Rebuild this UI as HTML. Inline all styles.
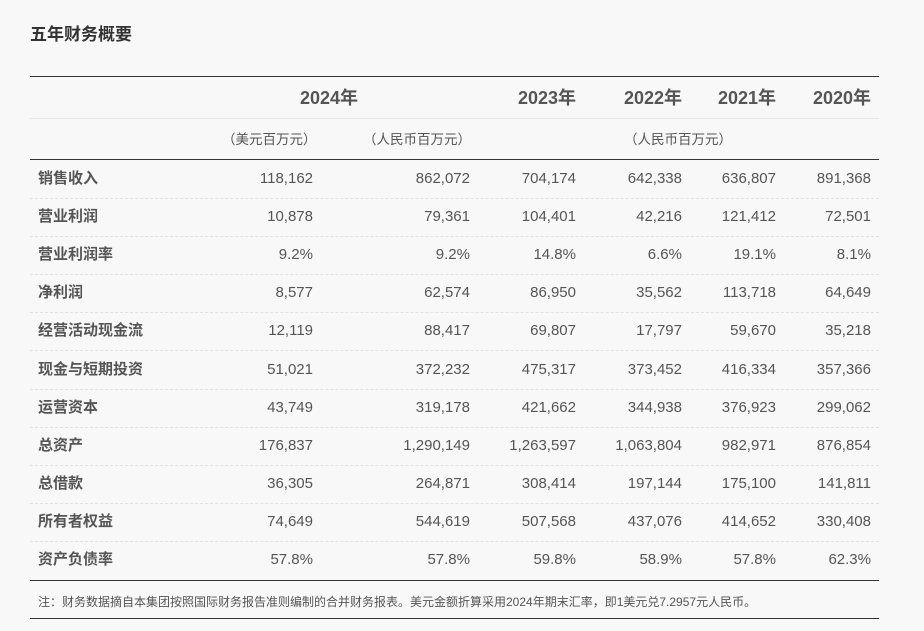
<!DOCTYPE html><html><head><meta charset="utf-8"><style>
body{margin:0;width:924px;height:631px;background:#f8f8f8;font-family:"Liberation Sans","Noto Sans CJK SC",sans-serif;color:#555;position:relative;overflow:hidden}
div{position:absolute;white-space:nowrap}
.h{height:0;left:30px;width:849px}
.t{font-size:15px;line-height:18px;transform:translateY(-9px)}
.r{text-align:right}
.l{font-weight:bold;font-size:15px;color:#555;left:38px}
.y{font-weight:bold;font-size:18px;line-height:20px;top:88px;color:#555}
</style></head><body>
<div style="left:30px;top:20px;font-size:17px;font-weight:bold;color:#333">五年财务概要</div>
<div class="h" style="top:76px;border-top:1px solid #333"></div>
<div class="y" style="left:300px">2024年</div>
<div class="y" style="right:348px">2023年</div>
<div class="y" style="right:242px">2022年</div>
<div class="y" style="right:148px">2021年</div>
<div class="y" style="right:53px">2020年</div>
<div class="h" style="top:118px;border-top:1px solid #e6e6e6"></div>
<div class="t" style="left:222px;top:140px;font-size:13.5px">（美元百万元）</div>
<div class="t" style="left:363px;top:140px;font-size:13.5px">（人民币百万元）</div>
<div class="t" style="left:624px;top:140px;font-size:13.5px">（人民币百万元）</div>
<div class="h" style="top:159px;border-top:1px solid #333"></div>
<div class="h" style="top:580px;border-top:1px solid #333"></div>
<div style="left:38px;top:593px;font-size:12px;color:#555">注：财务数据摘自本集团按照国际财务报告准则编制的合并财务报表。美元金额折算采用2024年期末汇率，即1美元兑7.2957元人民币。</div>
<div class="h" style="top:618px;border-top:1px solid #333"></div>
<script>
var d=[["销售收入","118,162","862,072","704,174","642,338","636,807","891,368"],
["营业利润","10,878","79,361","104,401","42,216","121,412","72,501"],
["营业利润率","9.2%","9.2%","14.8%","6.6%","19.1%","8.1%"],
["净利润","8,577","62,574","86,950","35,562","113,718","64,649"],
["经营活动现金流","12,119","88,417","69,807","17,797","59,670","35,218"],
["现金与短期投资","51,021","372,232","475,317","373,452","416,334","357,366"],
["运营资本","43,749","319,178","421,662","344,938","376,923","299,062"],
["总资产","176,837","1,290,149","1,263,597","1,063,804","982,971","876,854"],
["总借款","36,305","264,871","308,414","197,144","175,100","141,811"],
["所有者权益","74,649","544,619","507,568","437,076","414,652","330,408"],
["资产负债率","57.8%","57.8%","59.8%","58.9%","57.8%","62.3%"]];
var R=[313,470,576,682,776,871],h="";
d.forEach(function(r,i){var y=179+i*38.1;
h+='<div class="t l" style="top:'+y+'px">'+r[0]+'</div>';
for(var j=1;j<7;j++)h+='<div class="t r" style="top:'+y+'px;right:'+(924-R[j-1])+'px">'+r[j]+'</div>';
if(i<10)h+='<div class="h" style="top:'+(y+19)+'px;border-top:1px dashed #e2e2e2"></div>';});
document.body.insertAdjacentHTML('beforeend',h);
</script>
</body></html>
